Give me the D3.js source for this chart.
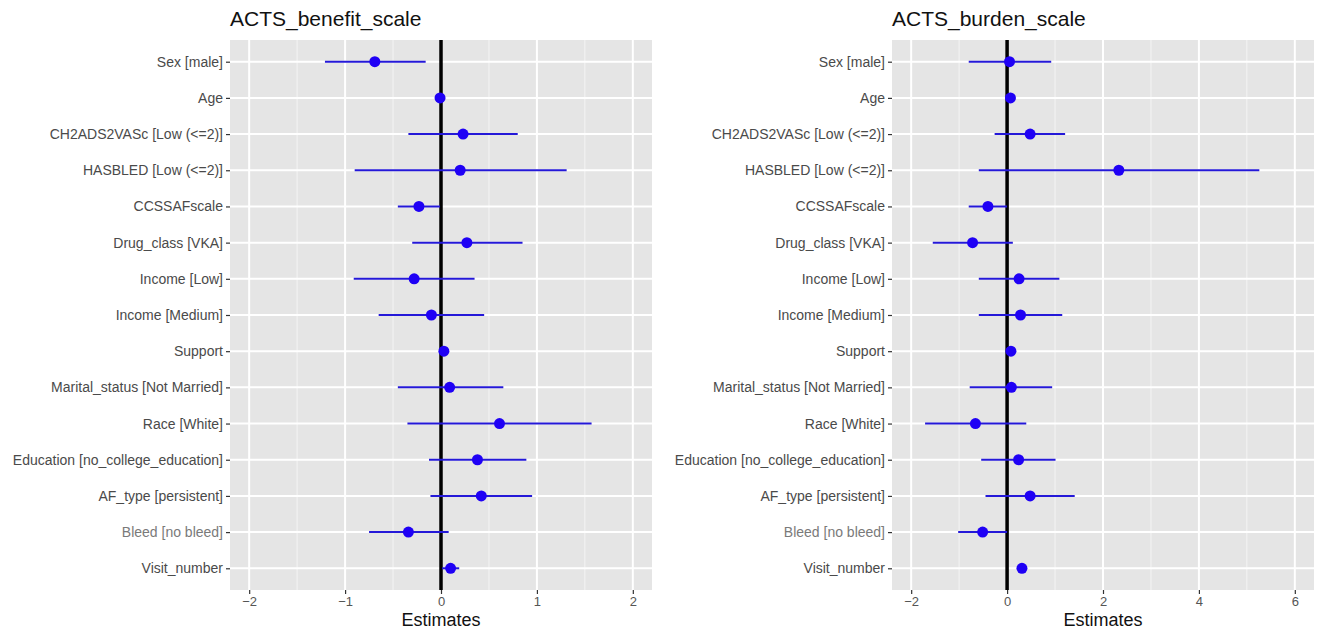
<!DOCTYPE html>
<html>
<head>
<meta charset="utf-8">
<script src="https://cdn.jsdelivr.net/npm/d3@7"></script>
<style>
  body { margin: 0; background: #fff; }
  text { font-family: "Liberation Sans", Arial, sans-serif; }
</style>
</head>
<body>
<div id="chart"></div>
<script>
// terms (top to bottom)
var categories = ["Sex [male]", "Age", "CH2ADS2VASc [Low (<=2)]", "HASBLED [Low (<=2)]",
  "CCSSAFscale", "Drug_class [VKA]", "Income [Low]", "Income [Medium]", "Support",
  "Marital_status [Not Married]", "Race [White]", "Education [no_college_education]",
  "AF_type [persistent]", "Bleed [no bleed]", "Visit_number"];

// ACTS_benefit_scale
var benefitEst  = [-0.69, -0.01, 0.23, 0.20, -0.23, 0.27, -0.28, -0.10, 0.03, 0.09, 0.61, 0.38, 0.42, -0.34, 0.10];
var benefitLow  = [-1.21, -0.03, -0.34, -0.90, -0.45, -0.30, -0.91, -0.65, 0.01, -0.45, -0.35, -0.125, -0.11, -0.75, 0.01];
var benefitHigh = [-0.16, 0.01, 0.80, 1.31, -0.01, 0.85, 0.35, 0.45, 0.05, 0.65, 1.57, 0.89, 0.95, 0.08, 0.19];
var benefitTicks = [-2, -1, 0, 1, 2];
var benefitMinor = [-1.5, -0.5, 0.5, 1.5];

// ACTS_burden_scale
var burdenEst  = [0.05, 0.07, 0.48, 2.33, -0.40, -0.72, 0.25, 0.28, 0.08, 0.09, -0.66, 0.24, 0.48, -0.51, 0.31];
var burdenLow  = [-0.80, 0.03, -0.26, -0.59, -0.80, -1.55, -0.59, -0.59, 0.04, -0.78, -1.71, -0.54, -0.45, -1.02, 0.22];
var burdenHigh = [0.92, 0.11, 1.21, 5.26, 0.0, 0.12, 1.09, 1.15, 0.12, 0.94, 0.40, 1.01, 1.41, 0.0, 0.40];
var burdenTicks = [-2, 0, 2, 4, 6];
var burdenMinor = [-1, 1, 3, 5];

var svg = d3.select("#chart").append("svg")
  .attr("width", 1319)
  .attr("height", 633);

function drawPanel(title, est, low, high, limits, ticks, minor, left, right) {
  var top = 40, bottom = 590;
  var pad = (limits[1] - limits[0]) * 0.05;

  var x = d3.scaleLinear()
    .domain([limits[0] - pad, limits[1] + pad])
    .range([left, right]);
  var y = d3.scalePoint()
    .domain(categories)
    .range([top, bottom])
    .padding(0.6);

  var rows = categories.map(function(c, i) {
    return {term: c, est: est[i], low: low[i], high: high[i]};
  });

  var g = svg.append("g");

  // panel background
  g.append("rect")
    .attr("x", left).attr("y", top)
    .attr("width", right - left).attr("height", bottom - top)
    .attr("fill", "#e5e5e5");

  // minor gridlines
  g.selectAll(".minor").data(minor).enter().append("line")
    .attr("x1", function(d) { return x(d); }).attr("x2", function(d) { return x(d); })
    .attr("y1", top).attr("y2", bottom)
    .attr("stroke", "#f4f4f4").attr("stroke-width", 1);

  // major gridlines
  g.selectAll(".vmajor").data(ticks).enter().append("line")
    .attr("x1", function(d) { return x(d); }).attr("x2", function(d) { return x(d); })
    .attr("y1", top).attr("y2", bottom)
    .attr("stroke", "#fff").attr("stroke-width", 2);
  g.selectAll(".hmajor").data(categories).enter().append("line")
    .attr("x1", left).attr("x2", right)
    .attr("y1", function(d) { return y(d); }).attr("y2", function(d) { return y(d); })
    .attr("stroke", "#fff").attr("stroke-width", 2);

  // reference line at 0
  g.append("line")
    .attr("x1", x(0)).attr("x2", x(0))
    .attr("y1", top).attr("y2", bottom)
    .attr("stroke", "#000").attr("stroke-width", 3.5);

  // error bars
  g.selectAll(".ci").data(rows).enter().append("line")
    .attr("x1", function(d) { return x(d.low); })
    .attr("x2", function(d) { return x(d.high); })
    .attr("y1", function(d) { return y(d.term); })
    .attr("y2", function(d) { return y(d.term); })
    .attr("stroke", "#2418d8").attr("stroke-width", 2);

  // estimates
  g.selectAll(".pt").data(rows).enter().append("circle")
    .attr("cx", function(d) { return x(d.est); })
    .attr("cy", function(d) { return y(d.term); })
    .attr("r", 5.5)
    .attr("fill", "#1f00f5");

  // y axis
  var ya = g.append("g")
    .attr("transform", "translate(" + left + ",0)")
    .call(d3.axisLeft(y).tickSize(4).tickPadding(3));
  ya.select(".domain").remove();
  ya.selectAll("line").attr("stroke", "#333").attr("stroke-width", 1.2);
  ya.selectAll("text")
    .attr("font-size", 14)
    .attr("fill", function(d) { return d === "Bleed [no bleed]" ? "#7a7a7a" : "#4a4a4a"; });

  // x axis
  var xa = g.append("g")
    .attr("transform", "translate(0," + bottom + ")")
    .call(d3.axisBottom(x).tickValues(ticks).tickFormat(d3.format("d")).tickSize(4).tickPadding(3));
  xa.select(".domain").remove();
  xa.selectAll("line").attr("stroke", "#333").attr("stroke-width", 1.2);
  xa.selectAll("text").attr("font-size", 13).attr("fill", "#555");

  // axis title
  g.append("text")
    .attr("x", (left + right) / 2).attr("y", 626)
    .attr("text-anchor", "middle")
    .attr("font-size", 18)
    .attr("fill", "#111")
    .text("Estimates");

  // panel title
  g.append("text")
    .attr("x", left).attr("y", 26)
    .attr("font-size", 21)
    .attr("fill", "#111")
    .text(title);
}

drawPanel("ACTS_benefit_scale", benefitEst, benefitLow, benefitHigh, [-2, 2], benefitTicks, benefitMinor, 230, 652);
drawPanel("ACTS_burden_scale", burdenEst, burdenLow, burdenHigh, [-2, 6], burdenTicks, burdenMinor, 892, 1314);
</script>
</body>
</html>
